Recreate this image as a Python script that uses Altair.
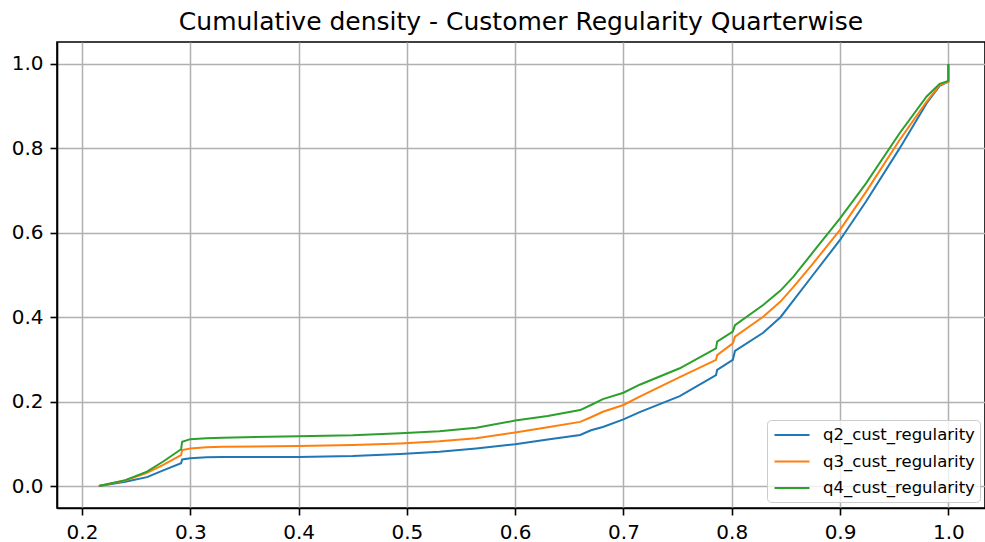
import altair as alt
import pandas as pd

# Regularity score grid (shared by the three quarterly CDFs)
reg_score = [0.2156, 0.24, 0.26, 0.275, 0.2915, 0.2925, 0.30, 0.315, 0.33, 0.40,
             0.45, 0.494, 0.53, 0.564, 0.60, 0.63, 0.66, 0.67, 0.681, 0.70,
             0.715, 0.752, 0.7855, 0.7865, 0.801, 0.803, 0.829, 0.845, 0.857, 0.875,
             0.90, 0.924, 0.955, 0.98, 0.992, 1.0, 1.0]

q2_cust_regularity = [0.0, 0.010, 0.021, 0.037, 0.054, 0.063, 0.066, 0.068, 0.069, 0.069,
                      0.071, 0.076, 0.081, 0.089, 0.099, 0.110, 0.121, 0.132, 0.140, 0.158,
                      0.175, 0.213, 0.263, 0.275, 0.299, 0.320, 0.363, 0.400, 0.440, 0.500,
                      0.583, 0.674, 0.800, 0.907, 0.948, 0.958, 1.0]

q3_cust_regularity = [0.0, 0.013, 0.031, 0.050, 0.073, 0.085, 0.089, 0.092, 0.093, 0.095,
                      0.097, 0.101, 0.106, 0.113, 0.127, 0.139, 0.152, 0.163, 0.176, 0.192,
                      0.212, 0.258, 0.299, 0.310, 0.338, 0.354, 0.401, 0.437, 0.472, 0.527,
                      0.607, 0.697, 0.820, 0.911, 0.950, 0.958, 1.0]

q4_cust_regularity = [0.0, 0.014, 0.034, 0.058, 0.087, 0.105, 0.111, 0.113, 0.1145, 0.118,
                      0.120, 0.125, 0.130, 0.138, 0.155, 0.166, 0.180, 0.192, 0.206, 0.221,
                      0.240, 0.279, 0.326, 0.342, 0.366, 0.381, 0.429, 0.463, 0.496, 0.554,
                      0.634, 0.717, 0.836, 0.923, 0.953, 0.960, 1.0]

series_names = ["q2_cust_regularity", "q3_cust_regularity", "q4_cust_regularity"]
series_colors = ["#1f77b4", "#ff7f0e", "#2ca02c"]

rows = []
for name, vals in zip(series_names, [q2_cust_regularity, q3_cust_regularity, q4_cust_regularity]):
    for i, (xv, yv) in enumerate(zip(reg_score, vals)):
        rows.append({"series": name, "x": xv, "y": yv, "idx": i})
df = pd.DataFrame(rows)

FONT = "DejaVu Sans"

chart = (
    alt.Chart(df)
    .mark_line(strokeWidth=2)
    .encode(
        x=alt.X("x:Q",
                scale=alt.Scale(domain=[0.17691, 1.03387], nice=False, zero=False),
                axis=alt.Axis(values=[0.2, 0.3, 0.4, 0.5, 0.6, 0.7, 0.8, 0.9, 1.0],
                              format=".1f", title=None)),
        y=alt.Y("y:Q",
                scale=alt.Scale(domain=[-0.0521, 1.0521], nice=False, zero=False),
                axis=alt.Axis(values=[0.0, 0.2, 0.4, 0.6, 0.8, 1.0],
                              format=".1f", title=None)),
        color=alt.Color("series:N",
                        scale=alt.Scale(domain=series_names, range=series_colors),
                        legend=alt.Legend(title=None, orient="none",
                                          legendX=710, legendY=378)),
        order=alt.Order("idx:Q"),
    )
    .properties(
        width=928,
        height=466,
        autosize=alt.AutoSizeParams(type="none"),
        padding={"left": 57, "top": 42, "right": 0, "bottom": 34},
        title=alt.TitleParams(
            "Cumulative density - Customer Regularity Quarterwise",
            font=FONT, fontSize=25, fontWeight="normal", color="#000000",
            anchor="middle", offset=7,
        ),
    )
    .configure_view(stroke="#000000", strokeWidth=1.6)
    .configure_axis(
        labelFont=FONT, labelFontSize=20, labelColor="#000000",
        domainColor="#000000", domainWidth=1.6,
        tickColor="#000000", tickWidth=1.6, tickSize=7,
        grid=True, gridColor="#b0b0b0", gridWidth=1.5,
        labelPadding=7,
    )
    .configure_legend(
        labelFont=FONT, labelFontSize=16.5, labelColor="#000000",
        # wide horizontal handle drawn from a small symbol box
        symbolType="M-2,0H2", symbolSize=306, symbolStrokeWidth=2,
        symbolOffset=10,
        rowPadding=7.5, padding=5, labelOffset=21,
        fillColor="rgba(255,255,255,0.8)", strokeColor="#cccccc", cornerRadius=4,
    )
)

chart.save("out.html", embed_options={"renderer": "svg", "actions": False})
